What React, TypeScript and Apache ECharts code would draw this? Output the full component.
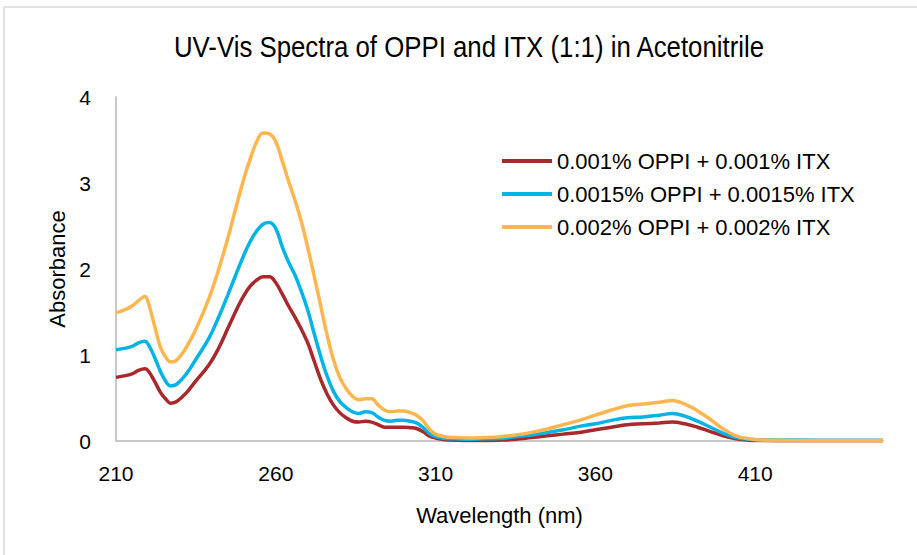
import React, { useEffect, useRef } from "react";
import * as echarts from "echarts";

const wavelengths = [
  210, 213, 215, 217, 219, 220, 222, 224, 226, 227, 229, 232, 235, 239, 242, 245, 248, 250, 252, 254,
  256, 258, 260, 262, 264, 266, 268, 270, 272, 274, 276, 278, 280, 282, 284, 286, 288, 290, 292, 294,
  296, 298, 300, 302, 304, 306, 308, 310, 313, 316, 320, 325, 330, 335, 340, 345, 350, 355, 360, 365,
  370, 375, 380, 384, 388, 392, 396, 400, 404, 408, 412, 420, 430, 440, 450,
];

const red = [
  0.74, 0.76, 0.78, 0.82, 0.84, 0.82, 0.7, 0.56, 0.47, 0.44, 0.46, 0.56, 0.7, 0.88, 1.07, 1.31, 1.55, 1.69, 1.8, 1.87,
  1.91, 1.91, 1.84, 1.71, 1.57, 1.44, 1.3, 1.14, 0.93, 0.72, 0.55, 0.42, 0.33, 0.27, 0.23, 0.22, 0.23, 0.22, 0.19, 0.16,
  0.16, 0.16, 0.16, 0.155, 0.145, 0.11, 0.06, 0.035, 0.015, 0.01, 0.005, 0.005, 0.01, 0.02, 0.04, 0.06, 0.08, 0.1, 0.13, 0.16,
  0.19, 0.2, 0.21, 0.22, 0.2, 0.16, 0.11, 0.06, 0.025, 0.01, 0.005, 0.003, 0.002, 0.002, 0.002,
];

const blue = [
  1.06, 1.08, 1.1, 1.14, 1.16, 1.13, 0.98, 0.8, 0.67, 0.64, 0.66, 0.78, 0.95, 1.19, 1.43, 1.7, 1.98, 2.16, 2.32, 2.44,
  2.52, 2.54, 2.47, 2.26, 2.08, 1.93, 1.74, 1.52, 1.25, 0.99, 0.76, 0.58, 0.46, 0.39, 0.34, 0.32, 0.34, 0.33, 0.28, 0.24,
  0.23, 0.24, 0.24, 0.23, 0.21, 0.16, 0.09, 0.05, 0.03, 0.025, 0.02, 0.025, 0.03, 0.05, 0.07, 0.1, 0.13, 0.17, 0.2, 0.24,
  0.27, 0.28, 0.3, 0.32, 0.29, 0.23, 0.16, 0.09, 0.04, 0.02, 0.013, 0.011, 0.01, 0.01, 0.01,
];

const orange = [
  1.49, 1.53, 1.57, 1.63, 1.68, 1.62, 1.35, 1.08, 0.95, 0.92, 0.94, 1.09, 1.3, 1.65, 1.98, 2.36, 2.78, 3.05, 3.28, 3.48,
  3.58, 3.57, 3.48, 3.26, 3.02, 2.8, 2.55, 2.25, 1.92, 1.58, 1.24, 0.95, 0.74, 0.61, 0.52, 0.48, 0.49, 0.49, 0.42, 0.36,
  0.34, 0.35, 0.35, 0.33, 0.3, 0.24, 0.14, 0.08, 0.05, 0.04, 0.035, 0.04, 0.05, 0.07, 0.1, 0.14, 0.19, 0.24, 0.3, 0.36,
  0.41, 0.43, 0.45, 0.47, 0.43, 0.35, 0.25, 0.14, 0.06, 0.025, 0.012, 0.008, 0.006, 0.005, 0.005,
];

const seriesNames = [
  "0.001% OPPI + 0.001% ITX",
  "0.0015% OPPI + 0.0015% ITX",
  "0.002% OPPI + 0.002% ITX",
];
const seriesColors = ["#A8282B", "#00B4E6", "#FFB650"];
const yTicks = [0, 1, 2, 3, 4];

const FONT = "'Liberation Sans', Arial, sans-serif";

export default function App() {
  const ref = useRef<HTMLDivElement>(null);
  useEffect(() => {
    if (!ref.current) return;
    const chart = echarts.init(ref.current, undefined, { renderer: "svg" });
    const allSeries = [red, blue, orange];
    chart.setOption({
      animation: false,
      backgroundColor: "#ffffff",
      textStyle: { fontFamily: FONT },
      grid: { left: 116, right: 34, top: 97, bottom: 114 },
      graphic: [
        {
          type: "line",
          shape: { x1: 4, y1: 7, x2: 917, y2: 7 },
          style: { stroke: "#D9D9D9", lineWidth: 1.5 },
        },
        {
          type: "line",
          shape: { x1: 4, y1: 7, x2: 4, y2: 555 },
          style: { stroke: "#D9D9D9", lineWidth: 1.5 },
        },
        {
          type: "text",
          x: 469,
          y: 47,
          scaleX: 0.86,
          style: {
            text: "UV-Vis Spectra of OPPI and ITX (1:1) in Acetonitrile",
            font: `30px ${FONT}`,
            fill: "#000",
            textAlign: "center",
            textVerticalAlign: "middle",
          },
        },
      ],
      legend: {
        orient: "vertical",
        left: 502,
        top: 146,
        padding: 0,
        icon: "rect",
        itemWidth: 50,
        itemHeight: 4,
        itemGap: 3,
        itemTextGap: 5,
        textStyle: { fontSize: 22, color: "#000", fontFamily: FONT, lineHeight: 30 },
        data: seriesNames,
      },
      xAxis: {
        type: "value",
        min: 210,
        max: 450,
        interval: 50,
        name: "Wavelength (nm)",
        nameLocation: "middle",
        nameGap: 63,
        nameTextStyle: { fontSize: 22, color: "#000", fontFamily: FONT },
        axisLine: { show: true, lineStyle: { color: "#C8C8C8", width: 2 } },
        axisTick: { show: false },
        splitLine: { show: false },
        axisLabel: { fontSize: 21, color: "#000", margin: 22, showMaxLabel: false, fontFamily: FONT },
      },
      yAxis: {
        type: "value",
        min: yTicks[0],
        max: yTicks[yTicks.length - 1],
        interval: 1,
        name: "Absorbance",
        nameLocation: "middle",
        nameGap: 48,
        nameTextStyle: { fontSize: 22, color: "#000", fontFamily: FONT },
        axisLine: { show: true, lineStyle: { color: "#C8C8C8", width: 2 } },
        axisTick: { show: false },
        splitLine: { show: false },
        axisLabel: { fontSize: 21, color: "#000", margin: 25, fontFamily: FONT },
      },
      series: allSeries.map((vals, i) => ({
        name: seriesNames[i],
        type: "line",
        data: wavelengths.map((w, j) => [w, vals[j]]),
        smooth: 0.4,
        symbol: "none",
        showSymbol: false,
        color: seriesColors[i],
        lineStyle: { color: seriesColors[i], width: 3.5 },
      })),
    });
    return () => chart.dispose();
  }, []);
  return (
    <div
      ref={ref}
      style={{ position: "absolute", left: 0, top: 0, width: 917, height: 555 }}
    />
  );
}
